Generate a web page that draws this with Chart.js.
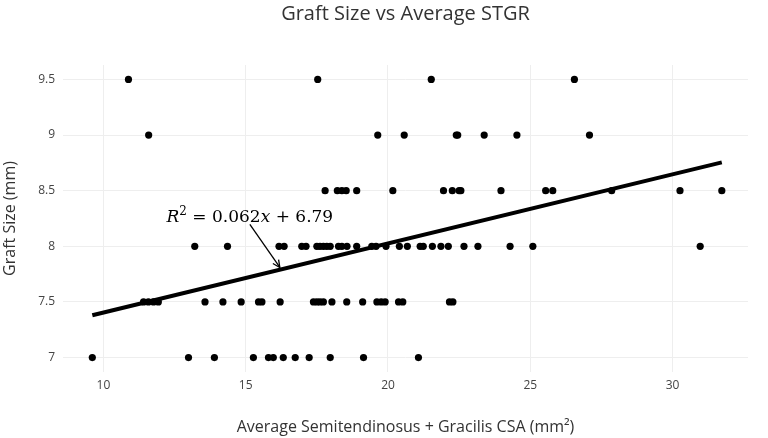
<!DOCTYPE html>
<html><head><meta charset="utf-8">
<script src="https://cdn.jsdelivr.net/npm/chart.js@4"></script>
<style>html,body{margin:0;padding:0;background:#fff}</style>
</head><body>
<canvas id="c" width="768" height="438" style="width:768px;height:438px;display:block"></canvas>
<script>
// Graft size levels (mm) and average ST+G CSA (mm^2) values read per level
const graftSizes = [9.5, 9, 8.5, 8, 7.5, 7];
const csa95 = [10.88, 17.53, 21.52, 26.55];
const csa90 = [11.59, 19.64, 20.57, 22.40, 22.45, 23.38, 24.53, 27.08];
const csa85 = [17.79, 18.22, 18.38, 18.53, 18.90, 20.17, 21.95, 22.26, 22.50, 22.56, 23.97, 25.54, 25.79, 27.86, 30.26, 31.73];
const csa80 = [13.21, 14.36, 16.17, 16.35, 16.97, 17.12, 17.50, 17.61, 17.73, 17.85, 17.97, 18.26, 18.38, 18.56, 18.90, 19.43, 19.58, 19.93, 20.40, 20.68, 21.13, 21.24, 21.56, 21.86, 22.12, 22.67, 23.16, 24.29, 25.09, 30.97];
const csa75 = [11.41, 11.58, 11.76, 11.93, 13.57, 14.20, 14.84, 15.45, 15.57, 16.21, 17.38, 17.50, 17.61, 17.73, 18.03, 18.55, 19.11, 19.61, 19.76, 19.90, 20.37, 20.52, 22.16, 22.28];
const csa70 = [9.61, 12.99, 13.90, 15.27, 15.80, 15.97, 16.32, 16.74, 17.23, 17.97, 19.14, 21.07];
const csaByGraft = [csa95, csa90, csa85, csa80, csa75, csa70];

// Trend line endpoints
const trendX = [9.61, 31.73];
const trendY = [7.38, 8.755];

// Axis ticks
const xTicks = [10, 15, 20, 25, 30];
const yTicks = [7, 7.5, 8, 8.5, 9, 9.5];

// Texts
const titleText = 'Graft Size vs Average STGR';
const xTitle = 'Average Semitendinosus + Gracilis CSA (mm²)';
const yTitle = 'Graft Size (mm)';

// Annotation arrow head (data coords)
const annotationPoint = [16.2, 7.81];

const points = [];
graftSizes.forEach((g, i) => csaByGraft[i].forEach(v => points.push({x: v, y: g})));
const trend = trendX.map((v, i) => ({x: v, y: trendY[i]}));

const font = '"Open Sans", sans-serif';

const titlePlugin = {
  id: 'plotTitle',
  afterDraw(chart) {
    const ctx = chart.ctx, a = chart.chartArea;
    ctx.save();
    ctx.font = `20px ${font}`;
    ctx.fillStyle = '#333';
    ctx.textAlign = 'center';
    ctx.textBaseline = 'middle';
    ctx.fillText(titleText, (a.left + a.right) / 2, 14);
    ctx.restore();
  }
};

const annotationPlugin = {
  id: 'eqAnnot',
  afterDatasetsDraw(chart) {
    const ctx = chart.ctx;
    const xs = chart.scales.x, ys = chart.scales.y;
    const hx = xs.getPixelForValue(annotationPoint[0]);
    const hy = ys.getPixelForValue(annotationPoint[1]);
    const cx = hx - 30, cy = hy - 51;
    ctx.save();
    const tx = cx, ty = cy + 8;
    ctx.strokeStyle = '#000';
    ctx.lineWidth = 1.3;
    ctx.beginPath(); ctx.moveTo(tx, ty); ctx.lineTo(hx, hy); ctx.stroke();
    const ang = Math.atan2(hy - ty, hx - tx);
    const L = 8, A = 0.45;
    ctx.beginPath();
    ctx.moveTo(hx - L * Math.cos(ang - A), hy - L * Math.sin(ang - A));
    ctx.lineTo(hx, hy);
    ctx.lineTo(hx - L * Math.cos(ang + A), hy - L * Math.sin(ang + A));
    ctx.stroke();
    const fam = '"DejaVu Serif", serif';
    const size = 17;
    const parts = [
      {t: 'R', f: `italic ${size}px ${fam}`, dy: 0},
      {t: '2', f: `${Math.round(size*0.7)}px ${fam}`, dy: -7},
      {t: ' = 0.062', f: `${size}px ${fam}`, dy: 0},
      {t: 'x', f: `italic ${size}px ${fam}`, dy: 0},
      {t: ' + 6.79', f: `${size}px ${fam}`, dy: 0}
    ];
    let w = 0;
    parts.forEach(p => { ctx.font = p.f; p.w = ctx.measureText(p.t).width; w += p.w; });
    let x = cx - w / 2;
    const base = cy + 6;
    ctx.fillStyle = '#000';
    ctx.textBaseline = 'alphabetic';
    parts.forEach(p => { ctx.font = p.f; ctx.fillText(p.t, x, base + p.dy); x += p.w; });
    ctx.restore();
  }
};

new Chart(document.getElementById('c'), {
  type: 'scatter',
  data: {
    datasets: [
      {data: points, backgroundColor: '#000', borderWidth: 0, pointRadius: 3.6, pointHoverRadius: 3.6, order: 2},
      {type: 'line', data: trend, borderColor: '#000', borderWidth: 4, pointRadius: 0, fill: false, showLine: true, order: 1}
    ]
  },
  options: {
    responsive: false,
    devicePixelRatio: 1,
    animation: false,
    layout: {padding: {left: 0, right: 20, top: 65, bottom: 0}},
    plugins: {
      legend: {display: false},
      tooltip: {enabled: false},
      title: {display: false}
    },
    scales: {
      x: {
        type: 'linear', min: 8.58, max: 32.65,
        afterBuildTicks: s => { s.ticks = xTicks.map(v => ({value: v})); },
        afterFit: s => { s.height = 66; },
        grid: {color: '#eeeeee', drawTicks: false},
        border: {display: false},
        ticks: {color: '#444', font: {family: font, size: 12}, padding: 6, callback: v => String(v)},
        title: {display: true, text: xTitle, color: '#333',
          font: {family: font, size: 16}, padding: {top: 0, bottom: 1}}
      },
      y: {
        type: 'linear', min: 6.87, max: 9.63,
        afterBuildTicks: s => { s.ticks = yTicks.map(v => ({value: v})); },
        afterFit: s => { s.width = 63; },
        grid: {color: '#eeeeee', drawTicks: false},
        border: {display: false},
        ticks: {color: '#444', font: {family: font, size: 12}, padding: 8, callback: v => String(v)},
        title: {display: true, text: yTitle, color: '#333',
          font: {family: font, size: 16}, padding: {top: 1, bottom: 0}}
      }
    }
  },
  plugins: [annotationPlugin, titlePlugin]
});
</script>
</body></html>
